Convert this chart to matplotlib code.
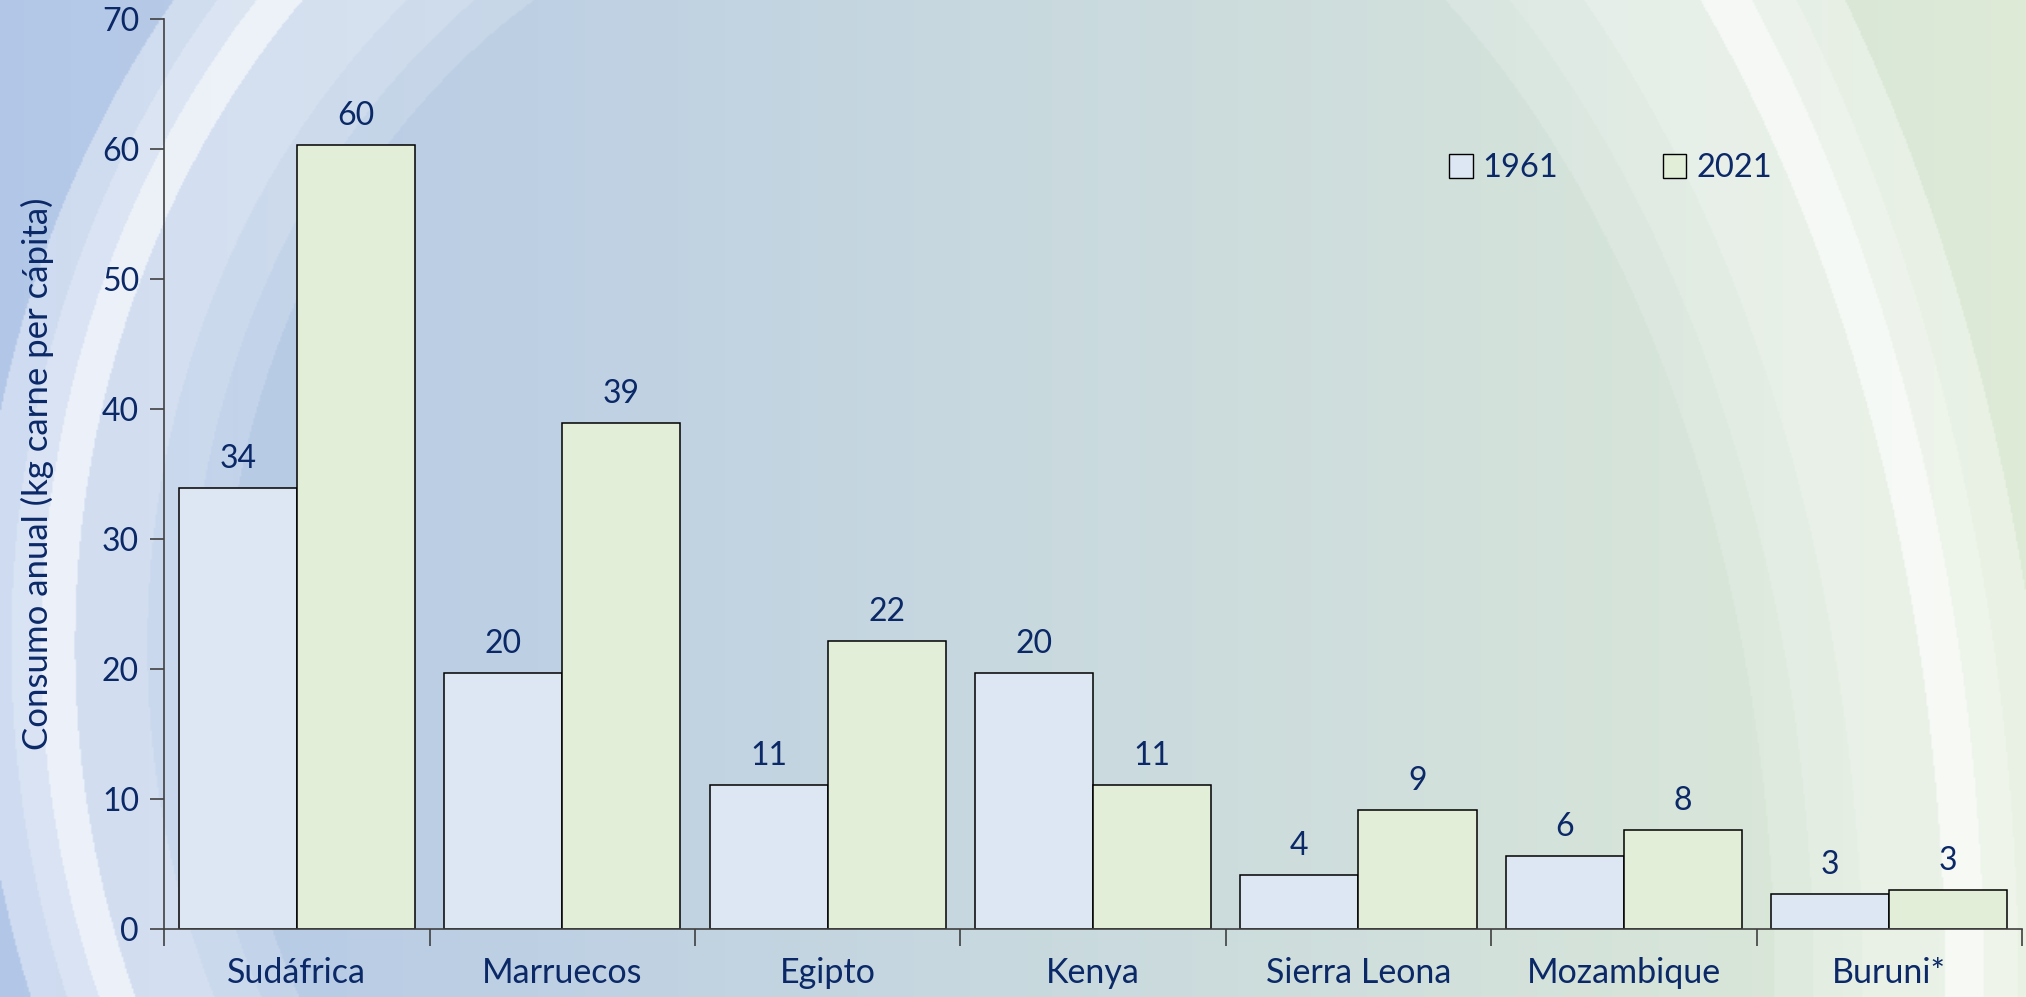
import numpy as np
import matplotlib
matplotlib.use("Agg")
from matplotlib import pyplot as plt
from matplotlib.patches import Patch

plt.rcParams['font.family'] = ['Lato', 'DejaVu Sans']

# data
paises = ['Sudáfrica', 'Marruecos', 'Egipto', 'Kenya', 'Sierra Leona', 'Mozambique', 'Buruni*']
consumo_1961 = [33.9, 19.7, 11.1, 19.7, 4.2, 5.6, 2.7]
consumo_2021 = [60.3, 38.9, 22.2, 11.1, 9.2, 7.6, 3.0]
series_labels = ['1961', '2021']
yticks = [0, 10, 20, 30, 40, 50, 60, 70]

navy = '#0b2867'
color_1961 = '#dce7f3'
color_2021 = '#e2eed8'

fig = plt.figure(figsize=(20.26, 9.97), dpi=100)

# background: blue -> green gradient with light curved bands (left and right swirl)
W, H = 1568, 772
xx, yy = np.meshgrid(np.linspace(0, W, 1200), np.linspace(0, H, 600))
t = (xx / W)[..., None]
blue = np.array([0.70, 0.78, 0.91])
green = np.array([0.87, 0.92, 0.84])
base = blue * (1 - t) + green * t
s_left = np.sqrt(((xx - 700) / 659) ** 2 + ((yy - 500) / 745) ** 2)
s_right = np.sqrt(((xx - 772) / 753) ** 2 + ((yy - 770) / 1177) ** 2)
s = np.where(xx < 736, s_left, s_right)
edges = [0.80, 0.84, 0.89, 0.975, 1.015, 1.05, 1.09]
levels = [0.16, 0.28, 0.40, 0.75, 0.50, 0.36]
w = np.zeros_like(s)
for lo, hi, lv in zip(edges[:-1], edges[1:], levels):
    w[(s >= lo) & (s < hi)] = lv
w = w[..., None]
img = base * (1 - w) + np.ones(3) * w
bg = fig.add_axes([0, 0, 1, 1], zorder=-1)
bg.imshow(img, extent=[0, W, H, 0], aspect='auto', interpolation='bilinear')
bg.axis('off')

ax = fig.add_axes([0.081, 0.068, 0.917, 0.913])
ax.patch.set_alpha(0)

x = np.arange(len(paises))
bw = 0.445
b1 = ax.bar(x - bw / 2, consumo_1961, bw, color=color_1961, edgecolor='black', linewidth=1.1, label=series_labels[0])
b2 = ax.bar(x + bw / 2, consumo_2021, bw, color=color_2021, edgecolor='black', linewidth=1.1, label=series_labels[1])

for bars in (b1, b2):
    for r in bars:
        ax.annotate(f'{r.get_height():.0f}', (r.get_x() + r.get_width() / 2, r.get_height()),
                    xytext=(0, 10), textcoords='offset points', ha='center', va='bottom',
                    fontsize=23, color=navy)

ax.set_xlim(-0.5, len(paises) - 0.5)
ax.set_ylim(0, 70)
ax.set_yticks(yticks)
ax.set_xticks(x)
ax.set_xticklabels(paises)
ax.set_xticks(np.arange(len(paises) + 1) - 0.5, minor=True)
ax.tick_params(axis='x', which='major', length=0, pad=20, labelsize=24.5, labelcolor=navy)
ax.tick_params(axis='x', which='minor', length=12, width=1.2, color='#404040')
ax.tick_params(axis='y', length=10, width=1.2, color='#404040', labelsize=23, labelcolor=navy, pad=8)
ax.set_ylabel('Consumo anual (kg carne per cápita)', fontsize=25, color=navy)
ax.yaxis.set_label_coords(-0.059, 0.5)

for side in ('top', 'right'):
    ax.spines[side].set_visible(False)
for side in ('left', 'bottom'):
    ax.spines[side].set_color('#404040')
    ax.spines[side].set_linewidth(1.2)

handles = [Patch(facecolor=color_1961, edgecolor='black'), Patch(facecolor=color_2021, edgecolor='black')]
fig.legend(handles, series_labels, ncol=2, frameon=False, loc='center', bbox_to_anchor=(0.795, 0.831),
           fontsize=23.5, labelcolor=navy, handlelength=0.72, handleheight=0.72, handletextpad=0.3,
           columnspacing=3.2)

fig.savefig('out.png', dpi=100)
